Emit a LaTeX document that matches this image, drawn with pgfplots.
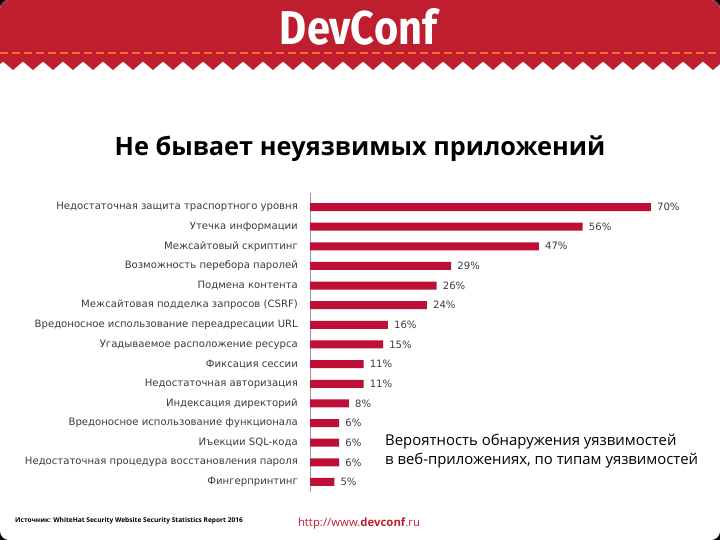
\documentclass[border=0pt]{standalone}
\usepackage{pgfplots}
\pgfplotsset{compat=1.18}
\usepackage{fontspec}
\usepackage{graphicx}
\setmainfont{Open Sans}
\newfontfamily\labelfont{DejaVu Sans}
\newfontfamily\logofont{Fira Sans}
\definecolor{hdr}{RGB}{190,30,45}
\definecolor{barred}{RGB}{190,16,55}
\definecolor{dashc}{RGB}{245,110,50}
\definecolor{lblgray}{RGB}{60,60,60}
\definecolor{urlred}{RGB}{190,30,45}
\begin{document}
\begin{tikzpicture}
\begin{scope}[x=1bp,y=-1bp]
\useasboundingbox (0,0) rectangle (720,540);
\fill[black] (0,0) rectangle (720,540);
\begin{scope}
\clip[rounded corners=9bp] (0,0) rectangle (720,540);
\fill[white] (0,0) rectangle (720,540);
\fill[hdr] (0,0) rectangle (720,62);
\foreach \t in {-7,13,...,727} {
  \fill[hdr] (\t-10,61.5) -- (\t,70) -- (\t+10,61.5) -- cycle;
}
\end{scope}
\draw[dashc, line width=1.8bp, dash pattern=on 8bp off 4bp] (0,53) -- (720,53);
\node[text=white, inner sep=0pt] at (358.5,27) {\resizebox{157bp}{36bp}{\logofont\bfseries DevConf}};
% title
\node[inner sep=0pt, text=black] at (360,149) {\fontsize{25.3bp}{29bp}\selectfont\bfseries Не бывает неуязвимых приложений};
% annotation
\node[inner sep=0pt, anchor=north west, align=left, text=black, font=\fontsize{14.9bp}{19bp}\selectfont] at (385,433.5) {Вероятность обнаружения уязвимостей\\в веб-приложениях, по типам уязвимостей};
% footer
\node[inner sep=0pt, anchor=west] at (15,521) {\fontsize{6.6bp}{8bp}\selectfont\bfseries Источник: WhiteHat Security Website Security Statistics Report 2016};
\node[inner sep=0pt, text=urlred] at (359,524) {\resizebox{122bp}{!}{\fontsize{14bp}{16bp}\selectfont http://www.\textbf{devconf}.ru}};
\end{scope}
\begin{axis}[
  at={(310bp,-193.25bp)}, anchor=north west,
  xbar, x=4.87bp, y=19.64bp,
  xmin=0, xmax=75, ymin=-0.7, ymax=14.5, y dir=reverse,
  bar width=8bp,
  axis x line=none, axis y line*=left,
  y axis line style={draw=gray!80, line width=0.8bp, -},
  ytick={0,...,14},
  yticklabels={Недостаточная защита траспортного уровня, Утечка информации, Межсайтовый скриптинг, Возможность перебора паролей, Подмена контента, Межсайтовая подделка запросов (CSRF), Вредоносное использование переадресации URL, Угадываемое расположение ресурса, Фиксация сессии, Недостаточная авторизация, Индексация директорий, Вредоносное использование функционала, Иъекции SQL-кода, Недостаточная процедура восстановления пароля, Фингерпринтинг},
  major tick length=0pt,
  yticklabel shift=12bp,
  yticklabel style={font=\labelfont\fontsize{10.1bp}{12bp}\selectfont, text=lblgray, inner sep=0pt},
  /pgf/number format/assume math mode=true,
  point meta=x,
  nodes near coords={\pgfmathprintnumber{\pgfplotspointmeta}\%},
  nodes near coords style={font=\labelfont\fontsize{10.1bp}{12bp}\selectfont, text=lblgray, anchor=west, inner sep=0pt, xshift=6bp},
  clip=false,
]
\addplot[fill=barred, draw=none] coordinates {
(70,0) (56,1) (47,2) (29,3) (26,4) (24,5) (16,6) (15,7) (11,8) (11,9) (8,10) (6,11) (6,12) (6,13) (5,14)};
\end{axis}
\end{tikzpicture}
\end{document}
